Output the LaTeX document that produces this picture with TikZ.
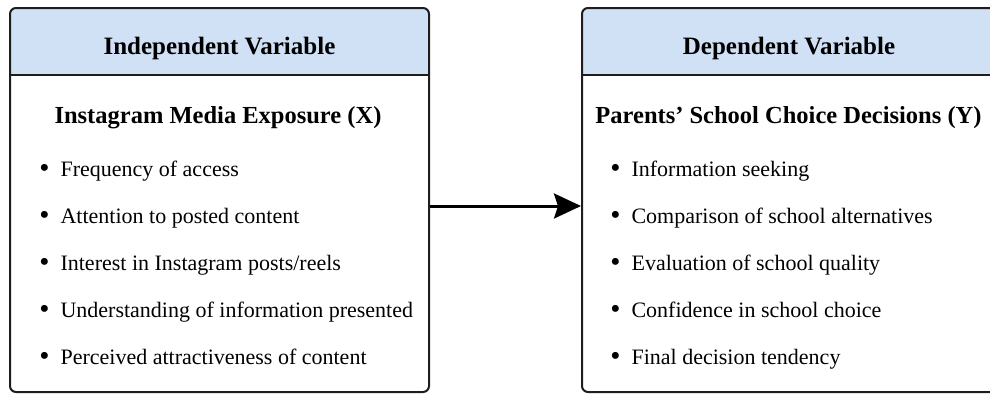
\documentclass[tikz,border=0pt]{standalone}
\usepackage{fontspec}
\setmainfont{Liberation Serif}
\usepackage{xcolor}
\usepackage{tikz}
\usetikzlibrary{arrows.meta,positioning,calc}
\definecolor{headblue}{RGB}{208,225,246}
\definecolor{boxline}{RGB}{30,30,30}

\begin{document}
\begin{tikzpicture}[x=1pt, y=-1pt, thick]
% Define styles for boxes, texts and the arrow
\tikzstyle{varbox} = [rectangle, draw=boxline, line width=2pt, rounded corners=6pt, minimum width=419pt, minimum height=384pt, inner sep=0pt]
\tikzstyle{headtext} = [anchor=base, font=\fontsize{25}{30}\selectfont\bfseries, inner sep=0pt]
\tikzstyle{subtext} = [anchor=base, font=\fontsize{24.5}{29}\selectfont\bfseries, inner sep=0pt]
\tikzstyle{item} = [anchor=base west, font=\fontsize{22}{26}\selectfont, inner sep=0pt]
\tikzstyle{line} = [draw=black, line width=3pt, -{Stealth[length=27pt, width=25pt, inset=4pt]}]
\newcommand{\bigdot}{{\fontsize{29}{29}\selectfont\raisebox{-1pt}{\textbullet}}\hspace{11pt}}

\useasboundingbox (0,0) rectangle (990,394);

% Header bands
\fill[headblue, rounded corners=6pt] (10,8) rectangle (429,75);
\fill[headblue] (10,40) rectangle (429,75);
\fill[headblue, rounded corners=6pt] (582,8) rectangle (1001,75);
\fill[headblue] (582,40) rectangle (1001,75);

% Place boxes
\node [varbox] (indep) at (219.5,200) {};
\node [varbox] (dep) at (791.5,200) {};
\coordinate (divline) at (0,75);
\draw [boxline, line width=2pt] (indep.west |- divline) -- (indep.east |- divline);
\draw [boxline, line width=2pt] (dep.west |- divline) -- (dep.east |- divline);

% Titles
\node [headtext] (indhead) at (219.5,54) {Independent Variable};
\node [headtext] (dephead) at (789,54) {Dependent Variable};
\node [subtext] (indsub) at (218,123) {Instagram Media Exposure (X)};
\node [subtext] (depsub) at (788.5,123) {Parents’ School Choice Decisions (Y)};

% Indicator lists
\foreach \txt [count=\i] in {Frequency of access, Attention to posted content, Interest in Instagram posts/reels, Understanding of information presented, Perceived attractiveness of content}
  \node [item] (ind\i) at (39,{176+47*(\i-1)}) {\bigdot\txt};
\foreach \txt [count=\i] in {Information seeking, Comparison of school alternatives, Evaluation of school quality, Confidence in school choice, Final decision tendency}
  \node [item] (dep\i) at (610,{176+47*(\i-1)}) {\bigdot\txt};

% Connect the boxes
\path [line] ([yshift=-6pt]indep.east) -- ([yshift=-6pt]dep.west);

\end{tikzpicture}
\end{document}
